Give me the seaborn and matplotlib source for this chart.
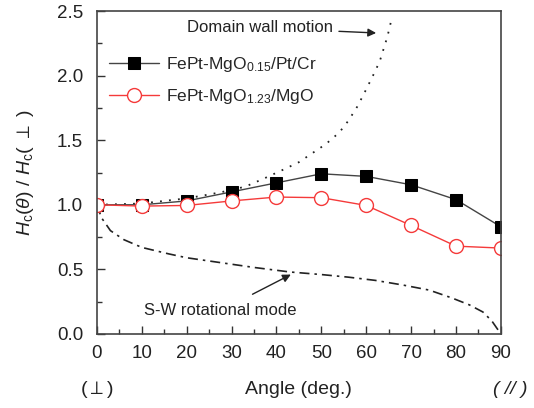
import numpy as np
import pandas as pd
import matplotlib
matplotlib.use("Agg")
import matplotlib.pyplot as plt
import seaborn as sns

# ---- data ----
angles = [0, 10, 20, 30, 40, 50, 60, 70, 80, 90]
hc_ptcr = [1.00, 1.00, 1.03, 1.10, 1.17, 1.24, 1.22, 1.155, 1.04, 0.83]
hc_mgo = [1.00, 0.99, 0.995, 1.03, 1.06, 1.055, 0.995, 0.84, 0.68, 0.665]

# theory curves
dw_angle = [0, 10, 20, 25, 28, 33, 37, 42, 45, 48, 51, 54, 56, 58, 59.5, 61.5, 63, 64.7, 65.8]
dw_value = [1.0, 1.01, 1.05, 1.08, 1.10, 1.14, 1.20, 1.28, 1.33, 1.40, 1.47, 1.56, 1.65, 1.76, 1.86, 2.0, 2.11, 2.30, 2.46]

sw_angle = [0, 1, 3, 6, 10, 16, 20, 28, 35, 43, 50, 56, 62, 68, 74, 79, 83, 86, 88, 89.6]
sw_value = [1.0, 0.9, 0.8, 0.73, 0.67, 0.62, 0.59, 0.55, 0.515, 0.48, 0.46, 0.44, 0.415, 0.38, 0.34, 0.28, 0.225, 0.17, 0.10, 0.02]

label_ptcr = r'FePt-MgO$_{0.15}$/Pt/Cr'
label_mgo = r'FePt-MgO$_{1.23}$/MgO'

sns.set_style("ticks")
plt.rcParams['font.family'] = ['Liberation Sans', 'DejaVu Sans']
plt.rcParams['mathtext.fontset'] = 'custom'
plt.rcParams['mathtext.rm'] = 'Liberation Sans'
plt.rcParams['mathtext.it'] = 'Liberation Sans:italic'

fig = plt.figure(figsize=(5.34, 4.08), dpi=100)
ax = fig.add_axes([0.1816, 0.1814, 0.938 - 0.1816, 0.973 - 0.1814])

df = pd.DataFrame({'angle': angles, 'ptcr': hc_ptcr, 'mgo': hc_mgo})

ax.plot(dw_angle, dw_value, color='#222222', lw=1.3, linestyle=(0, (1, 4)))
ax.plot(sw_angle, sw_value, color='#222222', lw=1.2, linestyle=(0, (6, 3, 1.5, 3)))

sns.lineplot(data=df, x='angle', y='ptcr', ax=ax, color='#444444', lw=1.0,
             marker='s', markersize=8, markerfacecolor='black',
             markeredgecolor='black', label=label_ptcr)
sns.lineplot(data=df, x='angle', y='mgo', ax=ax, color='#f53a3a', lw=1.0,
             marker='o', markersize=10, markerfacecolor='white',
             markeredgecolor='#f53a3a', markeredgewidth=1.0, label=label_mgo)

ax.set_xlim(0, 90)
ax.set_ylim(0, 2.5)
ax.set_xticks(np.arange(0, 91, 10))
ax.set_xticks(np.arange(5, 90, 10), minor=True)
ax.set_yticks(np.arange(0, 2.51, 0.5))
ax.set_yticks(np.arange(0.25, 2.5, 0.5), minor=True)
ax.set_yticklabels(['0.0', '0.5', '1.0', '1.5', '2.0', '2.5'])
ax.tick_params(which='both', direction='in', top=False, right=False,
               colors='#333333', labelcolor='#222222', labelsize=13.5)
ax.tick_params(axis='y', which='major', length=6, width=1.0, pad=10)
ax.tick_params(axis='x', which='major', length=6, width=1.0, pad=8)
ax.tick_params(which='minor', length=3.5, width=1.0)
for s in ax.spines.values():
    s.set_color('#444444')
    s.set_linewidth(1.2)

ax.set_xlabel('')
ax.set_ylabel(r'$H_\mathrm{c}(\theta)$ / $H_\mathrm{c}$( $\perp$ )', fontsize=14,
              color='#222222')
ax.yaxis.set_label_coords(-0.15, 0.5)

fig.text(298 / 534, 1 - 390 / 408, 'Angle (deg.)', ha='center', va='center',
         fontsize=14, color='#222222')
fig.text(97 / 534, 1 - 390 / 408, '($\\perp$)', ha='center', va='center',
         fontsize=14, color='#222222')
fig.text(510 / 534, 1 - 390 / 408, '( // )', ha='center', va='center',
         fontsize=14, color='#222222', style='italic')

ax.annotate('Domain wall motion', xy=(62.2, 2.33), xytext=(36.3, 2.37),
            ha='center', va='center', fontsize=12, color='#222222',
            arrowprops=dict(arrowstyle='-|>', color='#222222', lw=1.0,
                            mutation_scale=12, shrinkA=2, shrinkB=0))
ax.annotate('S-W rotational mode', xy=(43.2, 0.46), xytext=(27.5, 0.18),
            ha='center', va='center', fontsize=12, color='#222222',
            arrowprops=dict(arrowstyle='-|>', color='#222222', lw=1.0,
                            mutation_scale=12, shrinkA=9, shrinkB=0))

ax.legend(loc='upper left', bbox_to_anchor=(0.0, 0.90), frameon=False,
          fontsize=12.5, handlelength=2.9, labelspacing=0.75, handletextpad=0.35,
          borderaxespad=0.3)

fig.savefig('out.png', dpi=100)
